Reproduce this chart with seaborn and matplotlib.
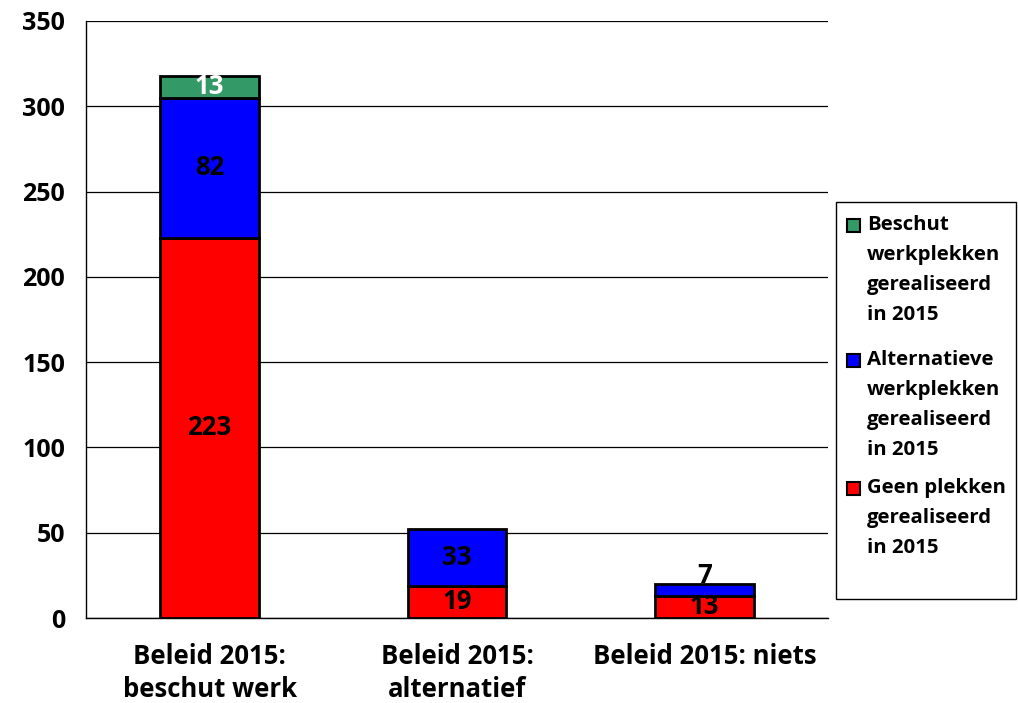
import matplotlib
matplotlib.use("Agg")
import matplotlib.pyplot as plt
import seaborn as sns
import pandas as pd
from matplotlib.patches import Rectangle

categories = ["Beleid 2015:\nbeschut werk", "Beleid 2015:\nalternatief", "Beleid 2015: niets"]
geen = [223, 19, 13]
alternatief = [82, 33, 7]
beschut = [13, 0, 0]
series_names = ["Beschut\nwerkplekken\ngerealiseerd\nin 2015",
                "Alternatieve\nwerkplekken\ngerealiseerd\nin 2015",
                "Geen plekken\ngerealiseerd\nin 2015"]
yticks = [0, 50, 100, 150, 200, 250, 300, 350]

sns.set_style("white")
FAM = ['Open Sans', 'DejaVu Sans']
plt.rcParams['font.family'] = FAM
plt.rcParams['font.weight'] = 'bold'
plt.rcParams['text.color'] = 'black'
plt.rcParams['xtick.color'] = 'black'
plt.rcParams['ytick.color'] = 'black'

df = pd.DataFrame({"cat": categories, "geen": geen, "alt": alternatief, "besch": beschut})
df["b_alt"] = df["geen"]
df["b_besch"] = df["geen"] + df["alt"]

W, H = 1018, 703
fig = plt.figure(figsize=(W / 100, H / 100), dpi=100)
ax = fig.add_axes([86/W, 1-618/H, (828-86)/W, (618-21)/H])

C_RED, C_BLUE, C_GREEN = "#FF0000", "#0000FF", "#339966"
kw = dict(width=0.4, edgecolor="black", linewidth=2, ax=ax, zorder=3, saturation=1)
sns.barplot(data=df, x="cat", y="geen", color=C_RED, **kw)
sns.barplot(data=df, x="cat", y="alt", bottom=df["b_alt"], color=C_BLUE, **kw)
sns.barplot(data=df, x="cat", y="besch", bottom=df["b_besch"], color=C_GREEN, **kw)
for p in ax.patches:
    if p.get_height() == 0:
        p.set_visible(False)

ax.set_ylim(0, 350)
ax.set_xlim(-0.5, 2.5)
ax.set_yticks(yticks)
ax.yaxis.grid(True, color="black", linewidth=0.9, zorder=0)
ax.set_axisbelow(True)
ax.set_xlabel("")
ax.set_ylabel("")
for s in ["top", "right"]:
    ax.spines[s].set_visible(False)
for s in ["left", "bottom"]:
    ax.spines[s].set_color("black")
    ax.spines[s].set_linewidth(1)

ax.set_xticks([0, 1, 2])
ax.set_xticklabels(categories, fontsize=18.5, fontweight="bold", linespacing=1.3, family=FAM,
                   color="black")
ax.tick_params(axis="x", which="major", length=0, pad=18)
ax.set_xticks([0.5, 1.5, 2.5], minor=True)
ax.tick_params(axis="x", which="minor", length=8, width=1, color="black", direction="out")
ax.tick_params(axis="y", length=7, width=1, color="black", direction="out", labelsize=18, pad=8)
for t in ax.get_yticklabels():
    t.set_fontweight("bold")
    t.set_family(FAM)
    t.set_color("black")

fs = 18.5
tkw = dict(ha="center", va="center", fontsize=fs, fontweight="bold", family=FAM, zorder=5)
for i in range(3):
    if geen[i] > 0:
        ax.text(i, geen[i] / 2, str(geen[i]), color="black", **tkw)
    if alternatief[i] > 0:
        if alternatief[i] < 10:
            ax.annotate(str(alternatief[i]), (i, geen[i] + alternatief[i]), xytext=(0, 6),
                        textcoords="offset points", color="black", **tkw)
        else:
            ax.text(i, geen[i] + alternatief[i] / 2, str(alternatief[i]), color="black", **tkw)
    if beschut[i] > 0:
        ax.text(i, geen[i] + alternatief[i] + beschut[i] / 2, str(beschut[i]), color="white", **tkw)

# legend box drawn manually (handle aligned with first text line, as in reference)
fig.patches.append(Rectangle((836/W, 1-599/H), (1016-836)/W, (599-202)/H, transform=fig.transFigure,
                             facecolor="white", edgecolor="black", linewidth=1, zorder=1))
colors = [C_GREEN, C_BLUE, C_RED]
first_line_y = [225, 360, 488]
for c, name, y0 in zip(colors, series_names, first_line_y):
    fig.patches.append(Rectangle((847/W, 1-(y0+7)/H), 13/W, 13/H, transform=fig.transFigure,
                                 facecolor=c, edgecolor="black", linewidth=1.5, zorder=2))
    for k, line in enumerate(name.split("\n")):
        fig.text(867/W, 1-(y0 + 30*k)/H, line, ha="left", va="center", fontsize=14.7,
                 fontweight="bold", family=FAM, zorder=3, color="black")

fig.savefig("out.png", dpi=100)
